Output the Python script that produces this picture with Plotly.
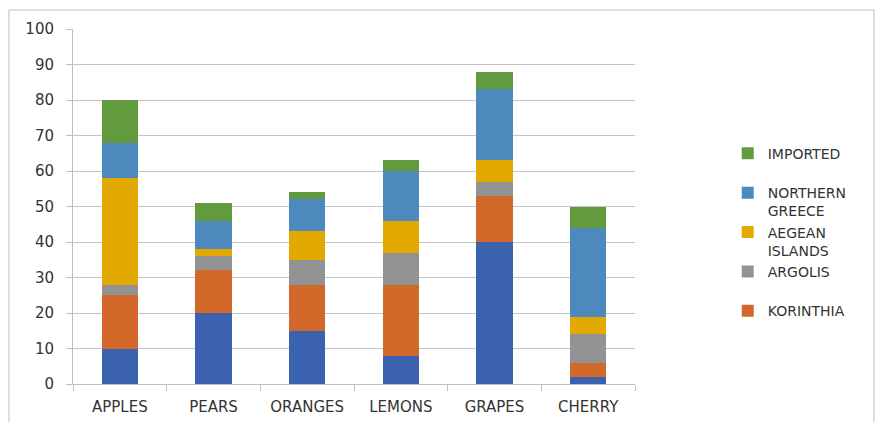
import plotly.graph_objects as go

# Fruit categories along the x axis
fruits = ["APPLES", "PEARS", "ORANGES", "LEMONS", "GRAPES", "CHERRY"]

# Stacked segments, bottom to top
local = [10, 20, 15, 8, 40, 2]
korinthia = [15, 12, 13, 20, 13, 4]
argolis = [3, 4, 7, 9, 4, 8]
aegean_islands = [30, 2, 8, 9, 6, 5]
northern_greece = [10, 8, 9, 14, 20, 25]
imported = [12, 5, 2, 3, 5, 6]

y_ticks = [0, 10, 20, 30, 40, 50, 60, 70, 80, 90, 100]

series = [
    # (legend label, values, colour, shown in legend)
    ("LOCAL", local, "#3A62AE", False),
    ("KORINTHIA", korinthia, "#D2692B", True),
    ("ARGOLIS<br> ", argolis, "#939393", True),
    ("AEGEAN<br>ISLANDS", aegean_islands, "#E2AA00", True),
    ("NORTHERN<br>GREECE", northern_greece, "#4E89BE", True),
    ("IMPORTED<br> ", imported, "#629B3E", True),
]

fig = go.Figure()
for name, vals, color, show in series:
    fig.add_trace(go.Bar(
        x=fruits,
        y=vals,
        name=name,
        marker=dict(color=color, line=dict(width=0)),
        showlegend=show,
    ))

axis_grey = "#BFBFBF"
text_grey = "#333333"

fig.update_layout(
    width=875,
    height=422,
    barmode="stack",
    bargap=0.615,
    paper_bgcolor="white",
    plot_bgcolor="white",
    margin=dict(l=73, r=240, t=29, b=38, autoexpand=False),
    font=dict(family="DejaVu Sans", color=text_grey),
    legend=dict(
        x=1.165,
        y=0.694,
        xanchor="left",
        yanchor="top",
        traceorder="reversed",
        valign="top",
        font=dict(size=14, color=text_grey),
        bgcolor="rgba(0,0,0,0)",
    ),
    xaxis=dict(
        type="category",
        automargin=False,
        tickson="boundaries",
        ticks="outside",
        ticklen=6,
        tickcolor=axis_grey,
        showline=True,
        linecolor=axis_grey,
        linewidth=1,
        showgrid=False,
        tickfont=dict(size=15, color=text_grey),
        ticklabelstandoff=9,
    ),
    yaxis=dict(
        range=[0, 100],
        automargin=False,
        tickvals=y_ticks,
        ticks="outside",
        ticklen=6,
        tickcolor=axis_grey,
        showline=True,
        linecolor=axis_grey,
        linewidth=1,
        showgrid=True,
        gridcolor="#C4C4C4",
        gridwidth=1,
        zeroline=False,
        tickfont=dict(size=15, color=text_grey),
        ticklabelstandoff=9,
    ),
    shapes=[
        # outer chart frame
        dict(
            type="rect",
            xref="paper",
            yref="paper",
            x0=-0.1139,
            x1=1.4253,
            y0=-0.2,
            y1=1.0535,
            line=dict(color=axis_grey, width=1),
            fillcolor="rgba(0,0,0,0)",
            layer="below",
        )
    ],
)

fig.write_html("out.html")
